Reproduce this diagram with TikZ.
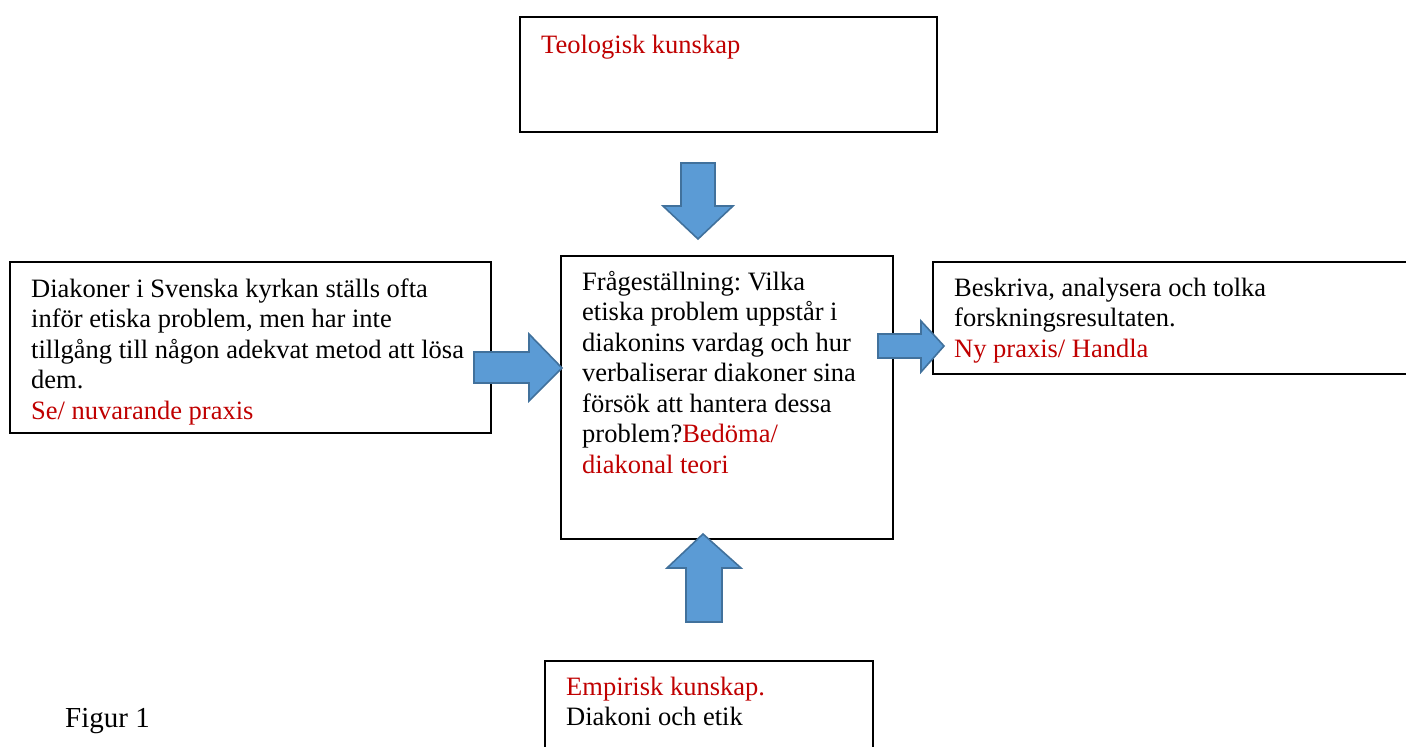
\documentclass[tikz,border=0pt]{standalone}
\usepackage{fontspec}
\setmainfont{Liberation Serif}
\frenchspacing
\definecolor{wordred}{HTML}{C00000}
\definecolor{arrowfill}{HTML}{5B9BD5}
\definecolor{arrowline}{HTML}{41719C}
\newcommand{\stacklines}[1]{\vtop{\baselineskip=30.5pt\lineskiplimit=-100pt #1}}
\tikzset{
  box/.style={draw=black, line width=2pt, fill=white, inner sep=0pt, rectangle},
  txt/.style={anchor=base west, inner sep=0pt, font=\fontsize{26.5}{30.5}\selectfont, text=black},
  blockarrow/.style={fill=arrowfill, draw=arrowline, line width=1.6pt, line join=miter},
}
\begin{document}
\begin{tikzpicture}[x=1pt, y=-1pt]
\useasboundingbox (0,0) rectangle (1406,747);
\clip (0,0) rectangle (1406,747);
% boxes
\node[box, minimum width=417pt, minimum height=115pt] (top) at (728.5,74.5) {};
\node[box, minimum width=481pt, minimum height=171pt] (left) at (250.5,347.5) {};
\node[box, minimum width=332pt, minimum height=283pt] (center) at (727,397.5) {};
\node[box, minimum width=487pt, minimum height=112pt] (right) at (1176.5,318) {};
\node[box, minimum width=328pt, minimum height=99pt] (bottom) at (709,710.5) {};
% texts
\node[txt, text=wordred] (toptext) at (541,53) {Teologisk kunskap};
\node[txt] (lefttext) at (31,297) {\stacklines{%
  \hbox{Diakoner i Svenska kyrkan ställs ofta}%
  \hbox{inför etiska problem, men har inte}%
  \hbox{tillgång till någon adekvat metod att lösa}%
  \hbox{dem.}%
  \hbox{\color{wordred}Se/ nuvarande praxis}}};
\node[txt] (centertext) at (582,290) {\stacklines{%
  \hbox{Frågeställning: Vilka}%
  \hbox{etiska problem uppstår i}%
  \hbox{diakonins vardag och hur}%
  \hbox{verbaliserar diakoner sina}%
  \hbox{försök att hantera dessa}%
  \hbox{problem?{\color{wordred}Bedöma/}}%
  \hbox{\color{wordred}diakonal teori}}};
\node[txt] (righttext) at (954,296) {\stacklines{%
  \hbox{Beskriva, analysera och tolka}%
  \hbox{forskningsresultaten.}%
  \hbox{\color{wordred}Ny praxis/ Handla}}};
\node[txt] (bottomtext) at (566,695) {\stacklines{%
  \hbox{\color{wordred}Empirisk kunskap.}%
  \hbox{Diakoni och etik}}};
\node[txt, font=\fontsize{29}{34}\selectfont] (figlabel) at (65,727) {Figur 1};
% block arrows
% top -> center (down)
\draw[blockarrow] (681,163) -- (715,163) -- (715,206) -- (733,206) -- (698,239) -- (663,206) -- (681,206) -- cycle;
% left -> center (right)
\draw[blockarrow] (474,352) -- (529,352) -- (529,334) -- (562,368) -- (529,401) -- (529,383) -- (474,383) -- cycle;
% center -> right (right)
\draw[blockarrow] (878,334) -- (921,334) -- (921,321) -- (944,346) -- (921,372) -- (921,358) -- (878,358) -- cycle;
% bottom -> center (up)
\draw[blockarrow] (686,622) -- (686,568) -- (667,568) -- (703,534) -- (741,568) -- (722,568) -- (722,622) -- cycle;
\end{tikzpicture}
\end{document}
